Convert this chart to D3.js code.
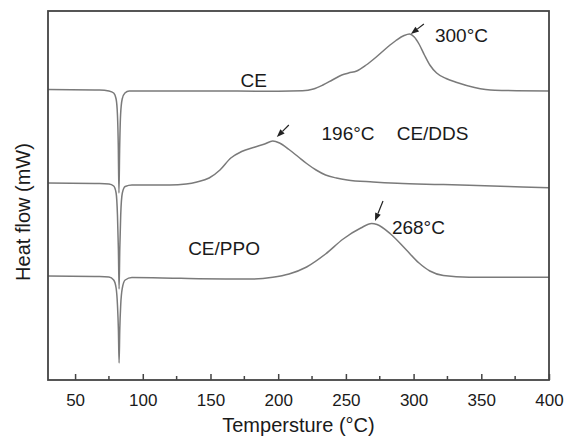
<!DOCTYPE html>
<html>
<head>
<meta charset="utf-8">
<script src="https://cdn.jsdelivr.net/npm/d3@7"></script>
<style>
	body { margin: 0; background: #fff; }
	text { font-family: "Liberation Sans", Arial, sans-serif; fill: #1a1a1a; }
</style>
</head>
<body>
<svg id="chart" width="566" height="438"></svg>
<script>
// DSC curves, heat flow in arbitrary units (curves are stacked)
var ceTemp = [30, 68, 75, 78.5, 80.3, 81.3, 81.9, 82.4, 82.9, 83.6, 84.8, 86.8, 90, 140, 200, 218, 226, 233, 240, 247, 252, 258, 265, 272, 280, 287, 293, 297, 300.5, 304, 308, 312, 317, 324, 332, 345, 360, 400];
var ceFlow = [29.05, 29.0, 28.9, 28.7, 28.1, 26.5, 23.5, 18.7, 23.0, 26.5, 28.1, 28.7, 28.9, 28.9, 28.88, 28.92, 29.1, 29.5, 30.0, 30.5, 30.7, 30.9, 31.5, 32.25, 33.2, 33.95, 34.45, 34.6, 34.3, 33.6, 32.5, 31.5, 30.7, 30.15, 29.75, 29.25, 28.97, 28.9];

var ddsTemp = [30, 68, 75, 78.5, 80.3, 81.3, 82, 82.5, 83, 83.7, 84.9, 87, 92, 120, 132, 140, 149, 157, 165, 173, 183, 190, 196, 201, 208, 215, 221, 228, 235, 243, 251, 270, 288, 320, 341, 370, 400];
var ddsFlow = [19.7, 19.65, 19.6, 19.4, 18.7, 16.5, 13.0, 9.1, 13.0, 16.5, 18.7, 19.35, 19.5, 19.5, 19.6, 19.8, 20.2, 21.0, 22.2, 22.85, 23.3, 23.6, 23.9, 23.7, 23.05, 22.3, 21.65, 21.0, 20.5, 20.2, 20.0, 19.8, 19.67, 19.55, 19.47, 19.35, 19.22];

var ppoTemp = [30, 68, 75, 78.5, 80.3, 81.3, 82, 82.5, 83, 83.7, 84.9, 87, 92, 128, 181, 196, 208, 221, 235, 248, 261, 269, 273, 283, 294, 304, 312, 322, 341, 400];
var ppoFlow = [10.4, 10.35, 10.3, 10.0, 9.2, 7.5, 5.0, 1.7, 5.0, 7.5, 9.2, 10.0, 10.25, 10.17, 10.1, 10.27, 10.6, 11.3, 12.6, 14.1, 15.2, 15.65, 15.55, 14.6, 13.1, 11.7, 10.9, 10.45, 10.27, 10.27];

var xTicks = [50, 100, 150, 200, 250, 300, 350, 400];
var xMinorTicks = [75, 125, 175, 225, 275, 325, 375];

// curve labels: text, temperature, heat flow
var labelText = ['CE', 'CE/DDS', 'CE/PPO', '300\u00B0C', '196\u00B0C', '268\u00B0C'];
var labelTemp = [182, 287.5, 133.5, 315.8, 232, 284];
var labelFlow = [30.0, 24.7, 13.2, 34.5, 24.7, 15.3];
var labelAnchor = ['middle', 'start', 'start', 'start', 'start', 'start'];

// peak arrows: tip position (temperature, heat flow)
var peakTemp = [298, 199, 271.5];
var peakFlow = [34.6, 24.3, 15.9];

var svg = d3.select('#chart');
var margin = { left: 48, right: 17, top: 11, bottom: 58 };
var W = 566, H = 438;

var x = d3.scaleLinear().domain([30, 400]).range([margin.left, W - margin.right]);
var y = d3.scaleLinear().domain([0, 36.9]).range([H - margin.bottom, margin.top]);

var line = d3.line()
	.x(function(d){ return x(d[0]); })
	.y(function(d){ return y(d[1]); })
	.curve(d3.curveMonotoneX);

var series = [
	d3.zip(ceTemp, ceFlow),
	d3.zip(ddsTemp, ddsFlow),
	d3.zip(ppoTemp, ppoFlow)
];

var plot = svg.append('g');
plot.selectAll('path.curve')
	.data(series)
	.enter().append('path')
	.attr('class', 'curve')
	.attr('d', line)
	.attr('fill', 'none')
	.attr('stroke', '#7a7a7a')
	.attr('stroke-width', 1.5);

// frame
svg.append('rect')
	.attr('x', margin.left)
	.attr('y', margin.top)
	.attr('width', W - margin.left - margin.right)
	.attr('height', H - margin.top - margin.bottom)
	.attr('fill', 'none')
	.attr('stroke', '#444')
	.attr('stroke-width', 1.8);

// x axis, ticks inside
var axisY = H - margin.bottom;
var xAxis = svg.append('g')
	.attr('transform', 'translate(0,' + axisY + ')')
	.call(d3.axisBottom(x).tickValues(xTicks).tickSizeInner(-6).tickSizeOuter(0).tickPadding(14));
xAxis.select('.domain').remove();
xAxis.selectAll('.tick line').attr('stroke', '#444').attr('stroke-width', 1.5);
xAxis.selectAll('.tick text')
	.style('font-size', '17px')
	.style('font-family', '"Liberation Sans", Arial, sans-serif')
	.attr('fill', '#1a1a1a');

svg.append('g').selectAll('line.minor')
	.data(xMinorTicks)
	.enter().append('line')
	.attr('x1', function(d){ return x(d); })
	.attr('x2', function(d){ return x(d); })
	.attr('y1', axisY)
	.attr('y2', axisY - 4)
	.attr('stroke', '#444')
	.attr('stroke-width', 1.5);

// titles
svg.append('text')
	.attr('x', (x.range()[0] + x.range()[1]) / 2)
	.attr('y', 425)
	.attr('text-anchor', 'middle')
	.attr('dominant-baseline', 'central')
	.style('font-size', '20px')
	.text('Tempersture (\u00B0C)');

svg.append('text')
	.attr('transform', 'translate(23,212) rotate(-90)')
	.attr('text-anchor', 'middle')
	.attr('dominant-baseline', 'central')
	.style('font-size', '20px')
	.text('Heat flow (mW)');

// curve labels
svg.selectAll('text.lbl')
	.data(labelText)
	.enter().append('text')
	.attr('class', 'lbl')
	.attr('x', function(d, i){ return x(labelTemp[i]); })
	.attr('y', function(d, i){ return y(labelFlow[i]); })
	.attr('text-anchor', function(d, i){ return labelAnchor[i]; })
	.attr('dominant-baseline', 'central')
	.style('font-size', '19px')
	.text(function(d){ return d; });

// arrows
var tails = [[13, -10], [12, -12], [8, -20]];
peakTemp.forEach(function(t, i){
	var tx = x(t), ty = y(peakFlow[i]);
	var sx = tx + tails[i][0], sy = ty + tails[i][1];
	var ang = Math.atan2(ty - sy, tx - sx);
	var hl = 8, hw = 3;
	var bx = tx - hl * Math.cos(ang), by = ty - hl * Math.sin(ang);
	svg.append('line')
		.attr('x1', sx).attr('y1', sy)
		.attr('x2', bx).attr('y2', by)
		.attr('stroke', '#222')
		.attr('stroke-width', 1.2);
	var p1 = [bx + hw * Math.sin(ang), by - hw * Math.cos(ang)];
	var p2 = [bx - hw * Math.sin(ang), by + hw * Math.cos(ang)];
	svg.append('path')
		.attr('d', 'M' + tx + ',' + ty + 'L' + p1 + 'L' + p2 + 'Z')
		.attr('fill', '#222');
});
</script>
</body>
</html>
